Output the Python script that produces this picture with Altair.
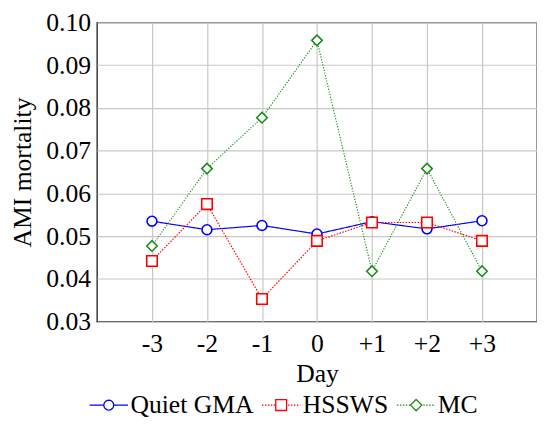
import math
import altair as alt
import pandas as pd

# ---- data ----
days = ["-3", "-2", "-1", "0", "+1", "+2", "+3"]
series_names = ["Quiet GMA", "HSSWS", "MC"]
quiet_gma = [0.0535, 0.0515, 0.0525, 0.0505, 0.0534, 0.0517, 0.0536]
hssws = [0.0442, 0.0575, 0.0353, 0.0489, 0.0532, 0.0532, 0.0489]
mc = [0.0477, 0.0658, 0.0777, 0.0958, 0.0418, 0.0658, 0.0418]
y_ticks = [0.03, 0.04, 0.05, 0.06, 0.07, 0.08, 0.09, 0.10]

# ---- styles ----
colors = ["#0000ff", "#ff0000", "#1a8c1a"]
shapes = ["circle", "square", "diamond"]
point_sizes = [100, 114, 114]
dashes = [[1, 0], [1.5, 1.5], [1.2, 1.6]]
FONT = "Liberation Serif"
LABEL_FONT = "Liberation Serif, Times New Roman, serif"

values_by_series = [quiet_gma, hssws, mc]
rows = []
for name, vals in zip(series_names, values_by_series):
    for d, v in zip(days, vals):
        rows.append({"day": d, "value": v, "series": name})
df = pd.DataFrame(rows)


def legend_path(marker, dashed):
    if marker == "circle":
        h = 1.0
        pts = [(math.cos(2 * math.pi * k / 24), math.sin(2 * math.pi * k / 24)) for k in range(24)]
        m = "M" + "L".join(f"{px:.3f},{py:.3f}" for px, py in pts) + "Z"
    elif marker == "square":
        h = 1.1
        m = "M-1.1,-1.1L1.1,-1.1L1.1,1.1L-1.1,1.1Z"
    else:
        h = 1.15
        m = "M0,-1.15L1.15,0L0,1.15L-1.15,0Z"
    stubs = ""
    if not dashed:
        stubs = f"M-3.9,0L-{h},0M{h},0L3.9,0"
    else:
        seg, gap = 0.3, 0.3
        x = -3.9
        while x < -h:
            stubs += f"M{x:.2f},0L{min(x + seg, -h):.2f},0"
            x += seg + gap
        x = h + gap
        while x < 3.9:
            stubs += f"M{x:.2f},0L{min(x + seg, 3.9):.2f},0"
            x += seg + gap
    return stubs + m


legend_paths = [legend_path(s, i > 0) for i, s in enumerate(shapes)]

x_enc = alt.X(
    "day:N",
    sort=days,
    scale=alt.Scale(type="point", padding=1),
    axis=alt.Axis(title="Day", labelAngle=0, labelPadding=9.5, titlePadding=4,
                  labelFont=LABEL_FONT, labelFontWeight="normal"),
)
y_enc = alt.Y(
    "value:Q",
    scale=alt.Scale(domain=[0.03, 0.10], nice=False, zero=False),
    axis=alt.Axis(values=y_ticks, format=".2f", title="AMI mortality",
                  labelPadding=6.5, titlePadding=10,
                  labelFont=LABEL_FONT, labelFontWeight="normal"),
)

layers = []
for i, name in enumerate(series_names):
    base = alt.Chart(df).transform_filter(alt.datum.series == name)
    line = base.mark_line(
        strokeWidth=1.2, strokeDash=dashes[i], color=colors[i]
    ).encode(x=x_enc, y=y_enc)
    pts = base.mark_point(
        shape=shapes[i], size=point_sizes[i], filled=True, fill="white",
        stroke=colors[i], strokeWidth=1.6, opacity=1,
    ).encode(x=x_enc, y=y_enc)
    layers += [line, pts]

leg = alt.Legend(
    orient="none", legendX=-16, legendY=375.5, direction="horizontal",
    labelFont=LABEL_FONT, labelFontWeight="normal", labelFontSize=26, labelColor="black",
    symbolSize=100, symbolStrokeWidth=1.3, symbolOffset=15,
    labelOffset=9, columnPadding=-4, padding=0, labelLimit=400,
)
legend_layer = alt.Chart(df).transform_filter(alt.datum.value < 0).mark_point(
    filled=False, opacity=1
).encode(
    x=x_enc, y=y_enc,
    color=alt.Color("series:N", scale=alt.Scale(domain=series_names, range=colors),
                    title=None, legend=leg),
    shape=alt.Shape("series:N", scale=alt.Scale(domain=series_names, range=legend_paths),
                    title=None, legend=leg),
)

chart = alt.layer(*layers, legend_layer).properties(
    width=446.7,
    height=303.8,
    autosize=alt.AutoSizeParams(type="none"),
    padding={"left": 90.3, "top": 11.5, "right": 0, "bottom": 94.7},
).configure(
    font=FONT
).configure_view(
    stroke="#1a1a1a", strokeWidth=1.3
).configure_axis(
    labelFont=LABEL_FONT, titleFont=FONT, labelFontWeight="normal",
    labelFontSize=26, titleFontSize=26,
    labelColor="black", titleColor="black", titleFontWeight="normal",
    grid=True, gridColor="#c8c8c8", gridWidth=1.2,
    domain=False, ticks=False, labelOverlap=False,
).configure_legend(
    labelFont=LABEL_FONT, labelFontWeight="normal"
)

chart.save("out.html", embed_options={"renderer": "svg", "actions": False})
